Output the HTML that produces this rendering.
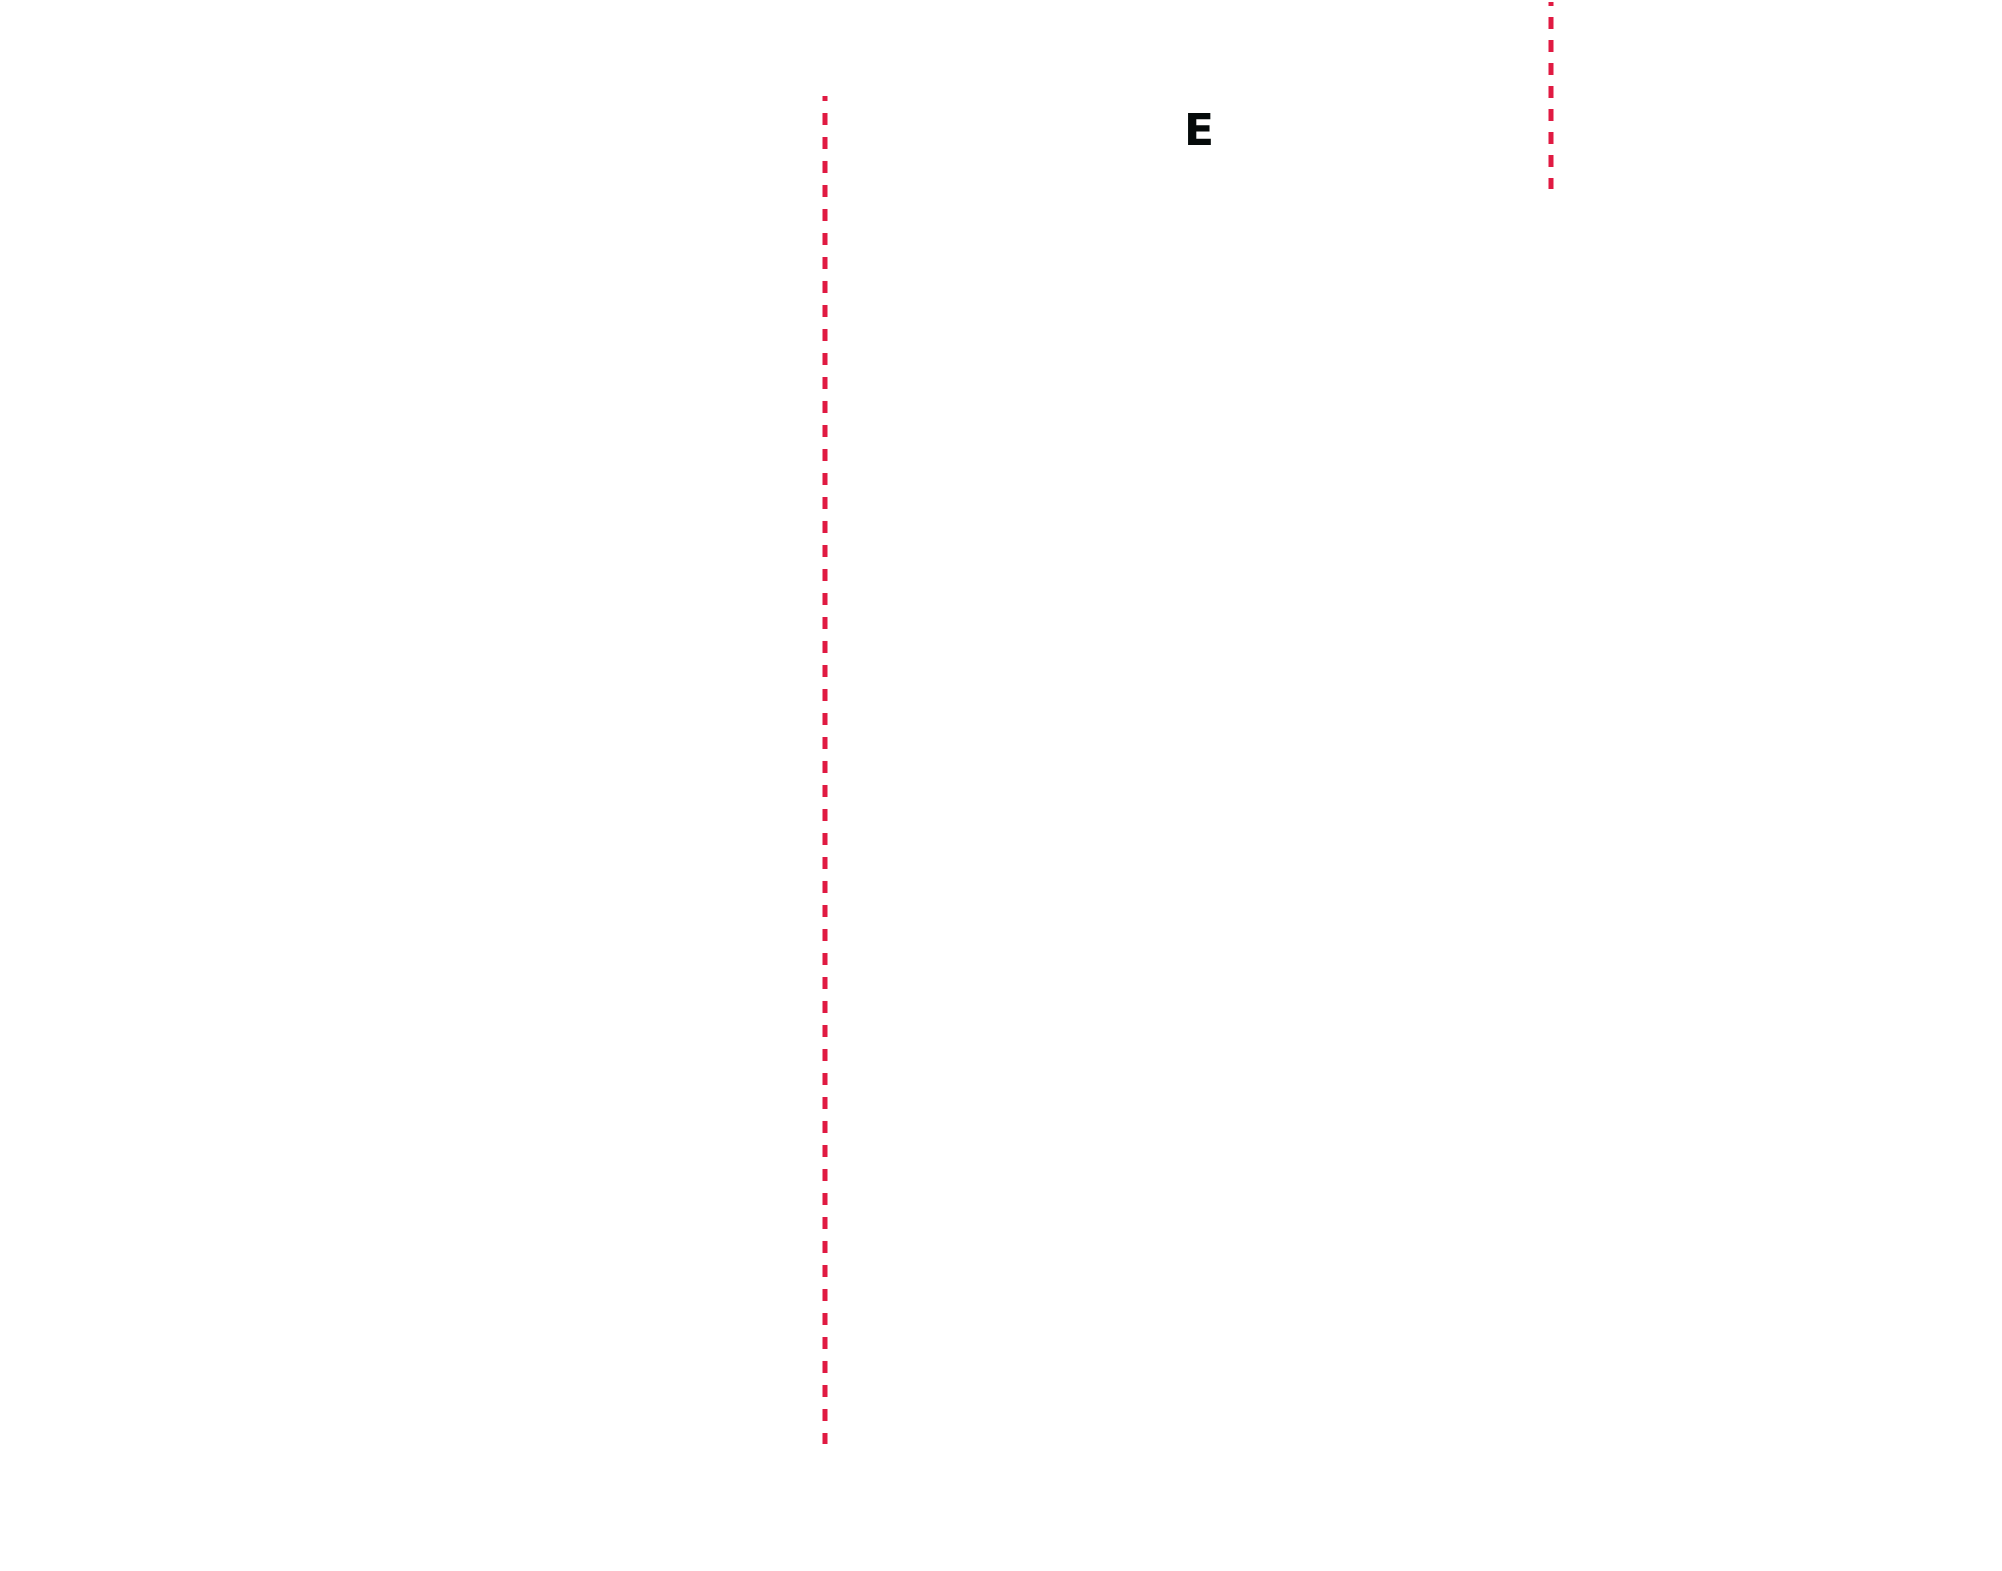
<!DOCTYPE html>
<html><head><meta charset="utf-8"><style>
html,body{margin:0;padding:0;background:#fff;}
svg{display:block;}
</style></head><body>
<svg width="2002" height="1571" viewBox="0 0 2002 1571" xmlns="http://www.w3.org/2000/svg">
<rect width="2002" height="1571" fill="#fff"/>
<line x1="825" y1="96" x2="825" y2="1444" stroke="#e01a42" stroke-width="5" stroke-dasharray="12 12" stroke-dashoffset="7"/>
<line x1="1551" y1="2" x2="1551" y2="189" stroke="#e01a42" stroke-width="5" stroke-dasharray="12 11" stroke-dashoffset="8"/>
<text x="1199" y="145" font-family="DejaVu Sans, Liberation Sans, sans-serif" font-weight="bold" font-size="44" text-anchor="middle" fill="#050a0a">E</text>
</svg>
</body></html>
